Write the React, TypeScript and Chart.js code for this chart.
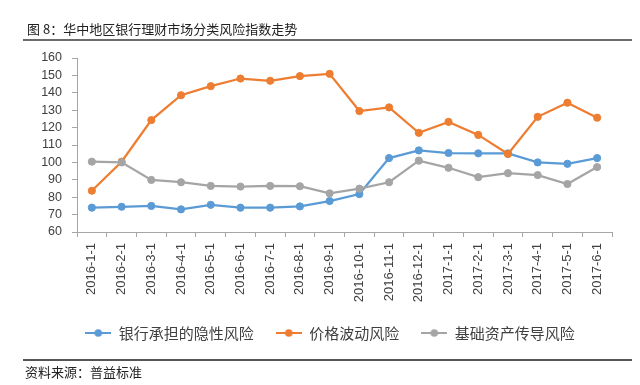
import React, { useEffect, useRef } from "react";
import { Chart, registerables } from "chart.js";

Chart.register(...registerables);

const categories = [
  "2016-1-1", "2016-2-1", "2016-3-1", "2016-4-1", "2016-5-1", "2016-6-1",
  "2016-7-1", "2016-8-1", "2016-9-1", "2016-10-1", "2016-11-1", "2016-12-1",
  "2017-1-1", "2017-2-1", "2017-3-1", "2017-4-1", "2017-5-1", "2017-6-1",
];
const bankHiddenRisk = [74, 74.5, 75, 73, 75.6, 74, 74, 74.7, 77.8, 81.8, 102.5, 106.9, 105.4, 105.2, 105.2, 100, 99.2, 102.5];
const priceVolatilityRisk = [83.7, 100.4, 124.3, 138.6, 143.8, 148.2, 146.9, 149.6, 150.9, 129.5, 131.6, 117, 123.3, 115.8, 104.8, 126.2, 134.3, 125.7];
const baseAssetRisk = [100.4, 100, 89.9, 88.6, 86.5, 86.1, 86.5, 86.3, 82.2, 84.9, 88.6, 101, 96.9, 91.5, 93.8, 92.7, 87.6, 97.3];
const seriesNames = ["银行承担的隐性风险", "价格波动风险", "基础资产传导风险"];
const seriesColors = ["#5b9bd5", "#ed7d31", "#a5a5a5"];
const yMin = 60;
const yMax = 160;
const yStep = 10;

const titleText = "图 8：华中地区银行理财市场分类风险指数走势";
const sourceText = "资料来源：普益标准";

function makeIcon(color: string): HTMLCanvasElement {
  const c = document.createElement("canvas");
  c.width = 26;
  c.height = 10;
  const ctx = c.getContext("2d")!;
  ctx.strokeStyle = color;
  ctx.lineWidth = 2;
  ctx.beginPath();
  ctx.moveTo(0, 5);
  ctx.lineTo(26, 5);
  ctx.stroke();
  ctx.fillStyle = color;
  ctx.beginPath();
  ctx.arc(13, 5, 3.8, 0, Math.PI * 2);
  ctx.fill();
  return c;
}

const LEGEND_CENTER_X = 330;
const LEGEND_CENTER_Y = 333;
const PLOT_BOTTOM = 232;
const PLOT_LEFT = 77;

export default function App() {
  const ref = useRef<HTMLCanvasElement | null>(null);

  useEffect(() => {
    if (!ref.current) return;
    const seriesData = [bankHiddenRisk, priceVolatilityRisk, baseAssetRisk];
    const orders = [2, 1, 0];
    const legendPlacer = {
      id: "legendPlacer",
      afterLayout(chart: any) {
        const l = chart.legend;
        if (!l) return;
        const pad = l.options.labels.padding;
        const fs = 15;
        const h = l.height;
        const top = LEGEND_CENTER_Y - pad - fs / 2;
        l.top = top;
        l.bottom = top + h;
        const c = (l.left + l.right) / 2;
        const dx = LEGEND_CENTER_X - c;
        l.left += dx;
        l.right += dx;
      },
    };
    const chart = new Chart(ref.current, {
      type: "line",
      data: {
        labels: categories,
        datasets: seriesData.map((d, i) => ({
          label: seriesNames[i],
          data: d,
          borderColor: seriesColors[i],
          backgroundColor: seriesColors[i],
          pointBackgroundColor: seriesColors[i],
          pointBorderColor: seriesColors[i],
          borderWidth: 2.25,
          pointRadius: 3.6,
          pointBorderWidth: 1,
          tension: 0,
          fill: false,
          order: orders[i],
        })),
      },
      options: {
        animation: false,
        responsive: false,
        devicePixelRatio: 1,
        events: [],
        layout: { padding: { top: 58, right: 28, left: 0, bottom: 0 } },
        plugins: {
          title: { display: false },
          tooltip: { enabled: false },
          legend: {
            display: true,
            position: "bottom",
            labels: {
              usePointStyle: true,
              pointStyleWidth: 26,
              padding: 22,
              color: "#404040",
              font: { family: '"Noto Sans CJK SC", sans-serif', size: 15 },
              generateLabels: () =>
                seriesNames.map((n, i) => ({
                  text: n,
                  fillStyle: seriesColors[i],
                  strokeStyle: seriesColors[i],
                  lineWidth: 0,
                  pointStyle: makeIcon(seriesColors[i]),
                  hidden: false,
                  datasetIndex: i,
                  fontColor: "#404040",
                })),
            },
          },
        },
        scales: {
          x: {
            type: "category",
            offset: true,
            afterFit: (scale: any) => {
              const lh = scale.chart.legend ? scale.chart.legend.height : 0;
              scale.height = scale.chart.height - lh - PLOT_BOTTOM;
            },
            grid: {
              offset: true,
              drawOnChartArea: false,
              drawTicks: true,
              tickLength: 5,
              color: "#a6a6a6",
            },
            border: { display: true, color: "#a6a6a6", width: 1 },
            ticks: {
              autoSkip: false,
              minRotation: 90,
              maxRotation: 90,
              padding: 6,
              color: "#404040",
              font: { family: '"Liberation Sans", Arial, sans-serif', size: 13 },
            },
          },
          y: {
            min: yMin,
            max: yMax,
            afterFit: (scale: any) => {
              scale.width = PLOT_LEFT;
            },
            grid: {
              drawOnChartArea: false,
              drawTicks: true,
              tickLength: 5,
              color: "#a6a6a6",
            },
            border: { display: true, color: "#a6a6a6", width: 1 },
            ticks: {
              stepSize: yStep,
              autoSkip: false,
              maxTicksLimit: 20,
              padding: 10,
              color: "#404040",
              font: { family: '"Liberation Sans", Arial, sans-serif', size: 12.5, lineHeight: 1 },
            },
          },
        },
      },
      plugins: [legendPlacer],
    });
    return () => chart.destroy();
  }, []);

  return (
    <div style={{ position: "absolute", left: 0, top: 0, width: 640, height: 385, background: "#fff", overflow: "hidden" }}>
      <canvas ref={ref} width={640} height={385} style={{ position: "absolute", left: 0, top: 0, width: 640, height: 385 }} />
      <div
        style={{
          position: "absolute",
          left: 27,
          top: 21,
          fontFamily: '"Noto Sans CJK SC", sans-serif',
          fontSize: 13,
          lineHeight: "16px",
          color: "#222",
          whiteSpace: "nowrap",
        }}
      >
        {titleText}
      </div>
      <div style={{ position: "absolute", left: 23, top: 39, width: 609, height: 2, background: "#6b6b6b" }} />
      <div style={{ position: "absolute", left: 23, top: 359, width: 609, height: 1.5, background: "#555" }} />
      <div
        style={{
          position: "absolute",
          left: 25,
          top: 363,
          fontFamily: '"Noto Sans CJK SC", sans-serif',
          fontSize: 13,
          lineHeight: "17px",
          color: "#222",
          whiteSpace: "nowrap",
        }}
      >
        {sourceText}
      </div>
    </div>
  );
}
